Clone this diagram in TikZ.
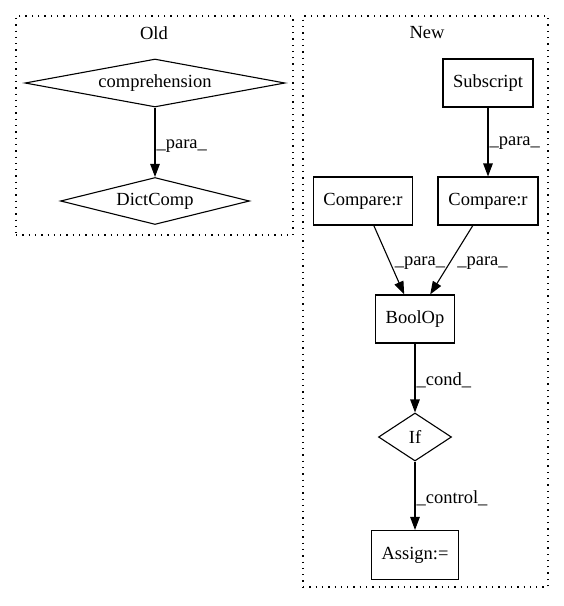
\documentclass[tikz,border=0pt]{standalone}
\usepackage{fontspec}
\setmainfont{Liberation Serif}
\usetikzlibrary{arrows.meta,shapes.geometric}

\begin{document}
\begin{tikzpicture}[x=1pt,y=-1pt,every node/.style={font=\fontsize{18.5}{22}\selectfont},
 box/.style={draw,line width=1.1pt,minimum height=48pt,inner sep=0pt},
 dia/.style={draw,diamond,line width=1.1pt,inner sep=0pt},
 clu/.style={draw,line width=1.2pt,dash pattern=on 1.3pt off 5pt},
 arr/.style={-{Triangle[length=13pt,width=9.5pt]},line width=1.1pt},
 lbl/.style={anchor=west,inner sep=1pt}]
\useasboundingbox (0,0) rectangle (564,606);
% clusters
\node[clu,minimum width=277pt,minimum height=219pt] (old) at (154.5,125.5) {};
\node[clu,minimum width=245pt,minimum height=571pt] (new) at (425.5,301.5) {};
\node (oldtitle) at (154,33) {Old};
\node (newtitle) at (427,33) {New};
% Old
\node[dia,aspect=5.42,minimum width=260pt,minimum height=48pt] (comp) at (155,83) {comprehension};
\node[dia,aspect=4.02,minimum width=189pt,minimum height=47pt] (dict) at (155,201) {DictComp};
% New
\node[box,minimum width=90pt] (subs) at (488,83) {Subscript};
\node[box,minimum width=99pt] (cmpl) at (363,201) {Compare:r};
\node[box,minimum width=100pt] (cmpr) at (488,201) {Compare:r};
\node[box,minimum width=79pt] (bool) at (415,319) {BoolOp};
\node[dia,aspect=1.52,minimum width=73pt,minimum height=48pt] (if) at (415,437) {If};
\node[box,minimum width=87pt,minimum height=49pt] (assign) at (415,555) {Assign:=};
% edges
\draw[arr] (comp) -- (dict) node[lbl,pos=0.56] {\_para\_};
\draw[arr] (subs) -- (cmpr) node[lbl,pos=0.52] {\_para\_};
\draw[arr] (cmpl) -- (bool) node[lbl,pos=0.54,xshift=3pt] {\_para\_};
\draw[arr] (cmpr) -- (bool) node[lbl,pos=0.54,xshift=6pt] {\_para\_};
\draw[arr] (bool) -- (if) node[lbl,pos=0.53] {\_cond\_};
\draw[arr] (if) -- (assign) node[lbl,pos=0.54] {\_control\_};
\end{tikzpicture}
\end{document}
